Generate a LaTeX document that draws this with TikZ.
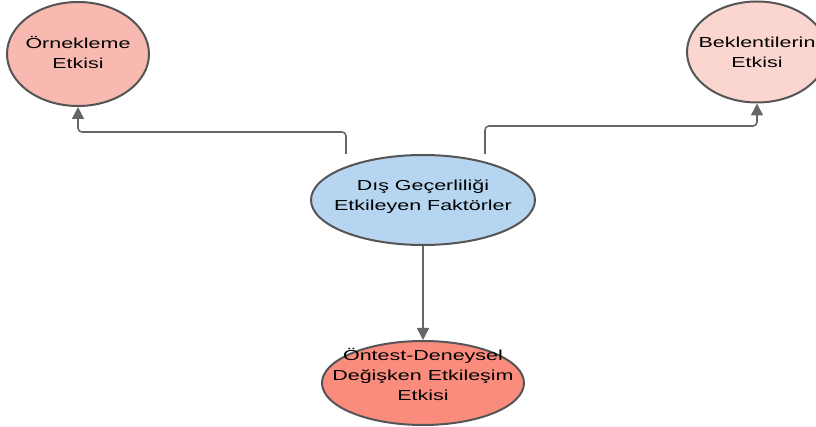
\documentclass[tikz,border=0pt]{standalone}
\usepackage{fontspec}
\setmainfont{Liberation Sans}
\usetikzlibrary{shapes.geometric,arrows.meta,backgrounds}
\definecolor{bordgris}{HTML}{555555}
\definecolor{flechegris}{HTML}{666666}
\definecolor{saumon}{HTML}{F8B9B0}
\definecolor{rosepale}{HTML}{FBD6D1}
\definecolor{bleuciel}{HTML}{B5D5F0}
\definecolor{corail}{HTML}{FA8C7E}
\tikzset{
  bulle/.style={ellipse,draw=bordgris,line width=2pt,inner sep=0pt},
  texte/.style={align=center,font=\fontsize{14.5}{20}\selectfont,xscale=1.48,inner sep=0pt},
  fleche/.style={draw=flechegris,line width=1.6pt,rounded corners=4pt,-{Triangle[length=12pt,width=12pt]}}
}
\begin{document}
\begin{tikzpicture}[x=1pt,y=-1pt]
  \useasboundingbox (0,0) rectangle (816,427);
  \node[bulle,fill=saumon,minimum width=142pt,minimum height=104pt] (orn) at (78,54) {};
  \node[bulle,fill=rosepale,minimum width=140pt,minimum height=101pt] (bek) at (757,52) {};
  \node[bulle,fill=bleuciel,minimum width=224pt,minimum height=90pt] (fak) at (423,200) {};
  \node[bulle,fill=corail,minimum width=202pt,minimum height=84pt] (ont) at (423,383) {};
  \node[texte] (t-orn) at (78,53) {Örnekleme\\Etkisi};
  \node[texte] (t-bek) at (757,52) {Beklentilerin\\Etkisi};
  \node[texte] (t-fak) at (423,197) {Dış Geçerliliği\\Etkileyen Faktörler};
  \node[texte] (t-ont) at (423,375) {Öntest-Deneysel\\Değişken Etkileşim\\Etkisi};
  \begin{pgfonlayer}{background}% les fleches passent sous les bulles
    \draw[fleche] ([xshift=-77pt]fak.north) -- ++(0,-22) -| (orn.south);
    \draw[fleche] ([xshift=62pt]fak.north) -- ++(0,-28) -| (bek.south);
    \draw[fleche] (fak.south) -- (ont.north);
  \end{pgfonlayer}
\end{tikzpicture}
\end{document}
